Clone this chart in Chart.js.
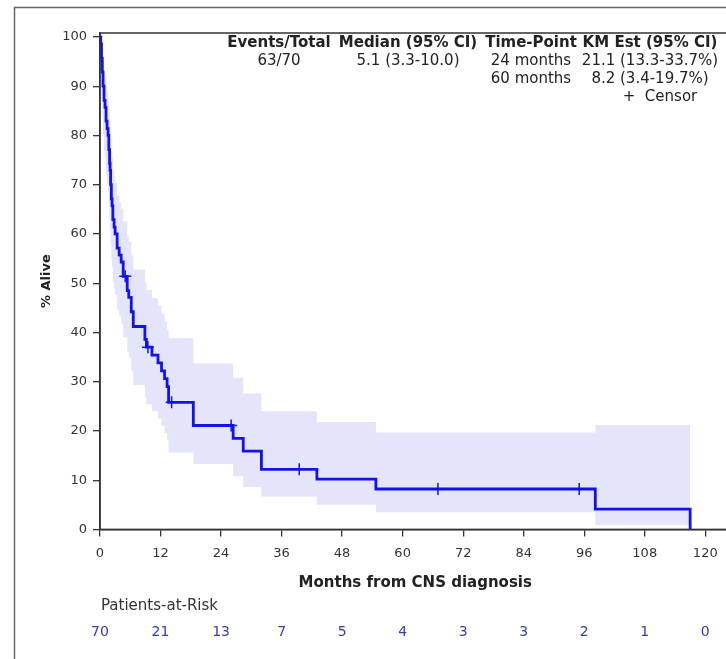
<!DOCTYPE html>
<html>
<head>
<meta charset="utf-8">
<script src="https://cdn.jsdelivr.net/npm/chart.js@4.4.0/dist/chart.umd.min.js"></script>
<style>
html, body { margin: 0; padding: 0; background: #fff; overflow: hidden; }
canvas { display: block; }
</style>
</head>
<body>
<canvas id="km" width="738" height="659"></canvas>
<script>
// KM step curve (months, % alive)
const kmTime = [0, 0.15, 0.3, 0.45, 0.6, 0.8, 1.0, 1.2, 1.4, 1.6, 1.75, 1.9, 2.0, 2.1, 2.25, 2.4, 2.55, 2.8, 3.0, 3.4, 3.8, 4.2, 4.6,
  5.4, 5.7, 6.2, 6.6, 8.9, 9.2, 10.3, 11.5, 12.2, 12.8, 13.3, 13.6, 18.5, 26.4, 28.4, 32.0, 43.0, 54.7, 98.2, 117.0];
const kmSurv = [100, 98.6, 95.7, 92.9, 90.0, 87.1, 85.7, 82.9, 81.4, 80.0, 77.1, 74.3, 72.9, 70.0, 67.1, 65.7, 62.9, 61.4, 60.0, 57.1, 55.7, 54.3, 51.4,
  48.5, 47.1, 44.2, 41.2, 38.6, 37.0, 35.4, 33.8, 32.2, 30.6, 29.0, 25.8, 21.1, 18.5, 15.9, 12.2, 10.2, 8.2, 4.1, 0];
const ciLow = [100, 90.3, 87.3, 83.7, 80.2, 76.8, 75.2, 72.0, 70.3, 68.7, 65.5, 62.4, 60.9, 57.8, 54.8, 53.3, 50.4, 48.9, 47.6, 44.6, 43.3, 41.8, 39.0,
  36.2, 34.9, 32.2, 29.3, 26.9, 25.4, 24.0, 22.5, 21.0, 19.6, 18.2, 15.6, 13.3, 10.8, 8.6, 6.7, 5.0, 3.5, 0.9, 0.9];
const ciHigh = [100, 99.8, 98.6, 97.0, 95.1, 93.0, 92.0, 89.9, 88.8, 87.7, 85.3, 82.9, 81.7, 79.3, 76.8, 75.5, 73.0, 71.7, 70.4, 67.7, 66.4, 65.1, 62.5,
  59.7, 58.4, 55.6, 52.8, 50.2, 48.6, 47.0, 45.4, 43.8, 42.2, 40.6, 38.8, 33.7, 30.8, 27.6, 24.0, 21.8, 19.7, 21.2, 21.2];
const censorTime = [5.0, 9.5, 14.2, 26.0, 39.5, 67.0, 95.0];
const censorSurv = [51.4, 37.0, 25.8, 21.1, 12.2, 8.2, 8.2];

const xTicks = [0, 12, 24, 36, 48, 60, 72, 84, 96, 108, 120];
const yTicks = [0, 10, 20, 30, 40, 50, 60, 70, 80, 90, 100];
const atRisk = [70, 21, 13, 7, 5, 4, 3, 3, 2, 1, 0];

const statHead = ['Events/Total', 'Median (95% CI)', 'Time-Point', 'KM Est (95% CI)'];
const statRow1 = ['63/70', '5.1 (3.3-10.0)', '24 months', '21.1 (13.3-33.7%)'];
const statRow2 = ['', '', '60 months', '8.2 (3.4-19.7%)'];

const BLUE = '#1212ee';
const FONT = '"DejaVu Sans", Verdana, sans-serif';
const pts = (xs, ys) => xs.map((x, i) => ({ x, y: ys[i] }));

const decor = {
  id: 'decor',
  afterDatasetsDraw(chart) {
    const { ctx, chartArea: a } = chart;
    ctx.save();
    ctx.strokeStyle = '#333';
    ctx.lineWidth = 1.5;
    ctx.strokeRect(a.left, a.top, a.right - a.left, a.bottom - a.top);
    ctx.restore();
  },
  afterDraw(chart) {
    const { ctx, scales } = chart;
    ctx.save();
    // outer frame
    ctx.strokeStyle = '#666';
    ctx.lineWidth = 1.5;
    ctx.beginPath();
    ctx.moveTo(14.5, 659); ctx.lineTo(14.5, 7.5); ctx.lineTo(738, 7.5);
    ctx.stroke();

    // stats table
    const cols = [279, 408, 531, 650];
    ctx.textAlign = 'center';
    ctx.textBaseline = 'middle';
    ctx.fillStyle = '#222';
    ctx.font = 'bold 15px ' + FONT;
    statHead.forEach((t, i) => ctx.fillText(t, cols[i], 43));
    ctx.font = '15px ' + FONT;
    statRow1.forEach((t, i) => ctx.fillText(t, cols[i], 61));
    statRow2.forEach((t, i) => t && ctx.fillText(t, cols[i], 79));
    ctx.fillText('+  Censor', 660, 97);

    // patients at risk
    ctx.textAlign = 'left';
    ctx.fillStyle = '#333';
    ctx.font = '15px ' + FONT;
    ctx.fillText('Patients-at-Risk', 101, 606);
    ctx.textAlign = 'center';
    ctx.fillStyle = '#3a3ab8';
    ctx.font = '14px ' + FONT;
    atRisk.forEach((n, i) => ctx.fillText(String(n), scales.x.getPixelForValue(xTicks[i]), 632));
    ctx.restore();
  }
};

new Chart(document.getElementById('km'), {
  type: 'line',
  data: {
    datasets: [
      { data: pts(kmTime, ciLow), stepped: 'before', borderWidth: 0, pointRadius: 0, fill: false, order: 3 },
      { data: pts(kmTime, ciHigh), stepped: 'before', borderWidth: 0, pointRadius: 0, fill: '-1',
        backgroundColor: '#e4e4fa', order: 2 },
      { data: pts(kmTime, kmSurv), stepped: 'before', borderColor: BLUE, borderWidth: 2.8, pointRadius: 0,
        fill: false, order: 1 },
      { data: pts(censorTime, censorSurv), showLine: false, pointStyle: 'cross', pointRadius: 6,
        borderColor: BLUE, borderWidth: 1.5, fill: false, order: 0 }
    ]
  },
  options: {
    responsive: false,
    animation: false,
    layout: { padding: { top: 33, right: 0, bottom: 67, left: 0 } },
    plugins: { legend: { display: false }, tooltip: { enabled: false } },
    scales: {
      x: {
        type: 'linear', min: 0, max: 125,
        afterBuildTicks: s => { s.ticks = xTicks.map(v => ({ value: v })); },
        grid: { drawOnChartArea: false, tickLength: 7, color: '#333', lineWidth: 1.3 },
        border: { color: '#333', width: 1.5 },
        ticks: { font: { family: FONT, size: 13 }, color: '#333', padding: 9 },
        title: { display: true, text: 'Months from CNS diagnosis', color: '#222',
          font: { family: FONT, size: 15, weight: 'bold' }, padding: { top: 4, bottom: 0 } }
      },
      y: {
        min: 0, max: 100.8,
        afterBuildTicks: s => { s.ticks = yTicks.map(v => ({ value: v })); },
        afterFit: s => { s.width = 100; },
        grid: { drawOnChartArea: false, tickLength: 7, color: '#333', lineWidth: 1.3 },
        border: { color: '#333', width: 1.5 },
        ticks: { font: { family: FONT, size: 13 }, color: '#333', padding: 6 },
        title: { display: true, text: '% Alive', color: '#222',
          font: { family: FONT, size: 13, weight: 'bold' }, padding: { top: 39, bottom: 0 } }
      }
    }
  },
  plugins: [decor]
});
</script>
</body>
</html>
